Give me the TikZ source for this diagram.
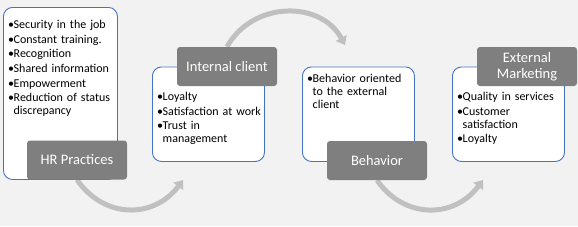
\documentclass[tikz,border=0pt]{standalone}
\usepackage{fontspec}
\setmainfont{Carlito}
\usetikzlibrary{arrows.meta}
\definecolor{bgcol}{HTML}{F2F2F2}
\definecolor{boxblue}{HTML}{4472C4}
\definecolor{lblgray}{HTML}{7F7F7F}
\definecolor{arrowgray}{HTML}{C0C0C0}
\pgfdeclarelayer{bglayer}
\pgfdeclarelayer{arrlayer}
\pgfsetlayers{bglayer,arrlayer,main}
\newcommand\bitm[1]{\par\noindent\makebox[5.5pt][l]{•}#1}
\newcommand\brk{\hfil\break\hspace*{5.5pt}}
\newcommand\bsetup{\setlength{\parskip}{1.7pt}\setlength{\parindent}{0pt}}
\tikzset{
  wbox/.style={draw=boxblue, fill=white, line width=0.9pt, rounded corners=9pt, inner sep=0pt, anchor=north west},
  lbl/.style={fill=lblgray, text=white, rounded corners=3pt, minimum width=100pt, minimum height=39pt, inner sep=0pt, font=\fontsize{14.5}{15.5}\selectfont, align=center},
  btxt/.style={anchor=north west, inner sep=0pt, text width=115pt, align=left, font=\fontsize{12}{13}\selectfont},
  flow/.style={draw=arrowgray, line width=5pt, -{Triangle[length=8pt,width=12pt]}}
}
\begin{document}
\begin{tikzpicture}[x=1pt,y=-1pt]
\begin{pgfonlayer}{bglayer}
\fill[bgcol] (0,0) rectangle (578,226);
\end{pgfonlayer}
\useasboundingbox (0,0) rectangle (578,226);

% white boxes
\node[wbox, minimum width=114pt, minimum height=172pt] (b1) at (3,7) {};
\node[wbox, minimum width=112pt, minimum height=94.5pt] (b2) at (152,66.5) {};
\node[wbox, minimum width=112pt, minimum height=94.5pt] (b3) at (302,66.5) {};
\node[wbox, minimum width=112pt, minimum height=94.5pt] (b4) at (452,66.5) {};

% bullet texts
\node[btxt] (t1) at (8,13.5) {\bsetup\bitm{Security in the job}\bitm{Constant training.}\bitm{Recognition}\bitm{Shared information}\bitm{Empowerment}\bitm{Reduction of status\brk discrepancy}};
\node[btxt] (t2) at (157,85.5) {\bsetup\bitm{Loyalty}\bitm{Satisfaction at work}\bitm{Trust in\brk management}};
\node[btxt] (t3) at (307,68) {\bsetup\bitm{Behavior oriented\brk to the external\brk client}};
\node[btxt] (t4) at (457,85.5) {\bsetup\bitm{Quality in services}\bitm{Customer\brk satisfaction}\bitm{Loyalty}};

% labels
\node[lbl] (l1) at (77,160) {HR Practices};
\node[lbl] (l2) at (227,66.5) {Internal client};
\node[lbl] (l3) at (377,160.5) {Behavior};
\node[lbl] (l4) at (527,66.5) {External\\Marketing};

% arrow ends
\coordinate (a1) at (183,180);
\coordinate (a2) at (345,45);
\coordinate (a3) at (483,180);

\begin{pgfonlayer}{arrlayer}
\draw[flow] (l1.south) .. controls (104,219) and (154,219) .. (a1);
\draw[flow] (l2.north) .. controls (253,0.5) and (321,0.5) .. (a2);
\draw[flow] (l3.south) .. controls (404,219) and (454,219) .. (a3);
\end{pgfonlayer}
\end{tikzpicture}
\end{document}
